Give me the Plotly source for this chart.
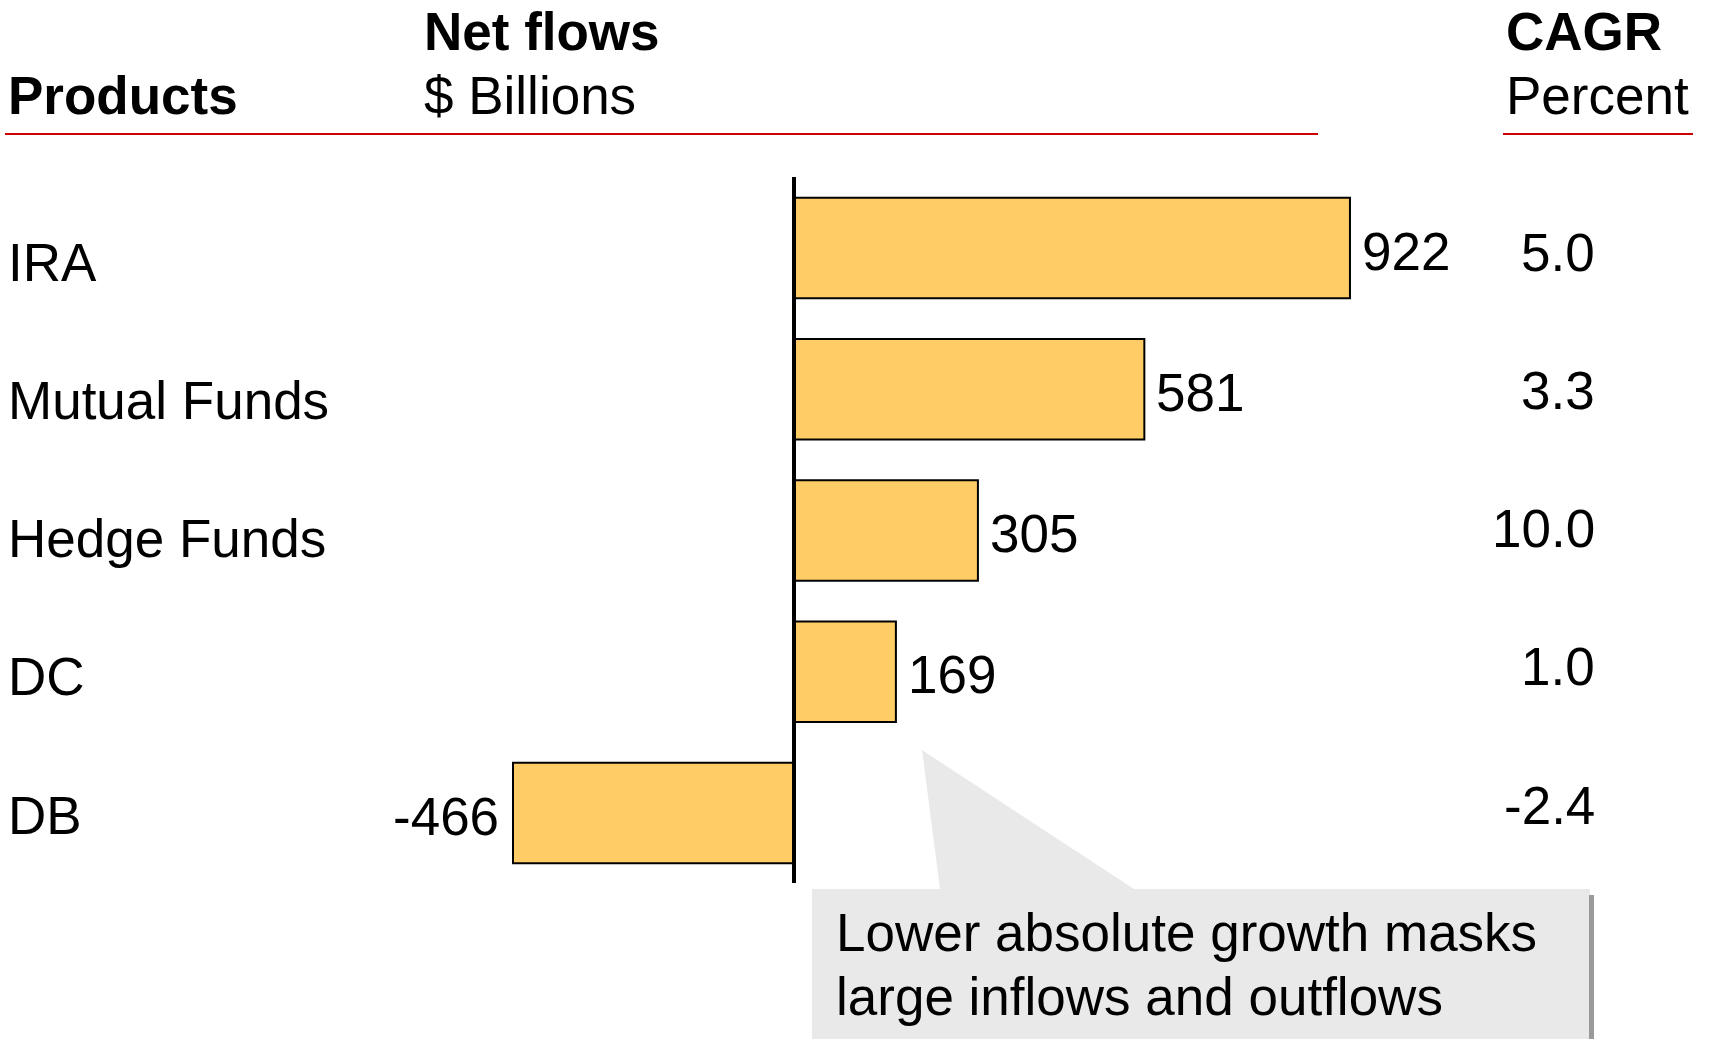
import plotly.graph_objects as go

# Data
products = ["IRA", "Mutual Funds", "Hedge Funds", "DC", "DB"]
net_flows = [922, 581, 305, 169, -466]          # $ Billions
cagr = ["5.0", "3.3", "10.0", "1.0", "-2.4"]    # Percent

W, H = 1710, 1039
FONT = "Liberation Sans, Arial, Helvetica, sans-serif"
FS = 53


def px(x):
    return x / W


def py(y):
    return 1 - y / H


fig = go.Figure()

fig.add_trace(go.Bar(
    y=products,
    x=net_flows,
    orientation="h",
    width=0.71,
    marker=dict(color="#FFCC66", line=dict(color="black", width=2)),
    hoverinfo="skip",
))
# Invisible companion trace on the text-column axis (labels and CAGR)
fig.add_trace(go.Scatter(
    y=products, x=[0] * len(products), yaxis="y2", mode="markers",
    marker=dict(opacity=0), hoverinfo="skip",
))

annotations = []

# Column headers
annotations += [
    dict(x=px(6), y=py(95), text="<b>Products</b>", xanchor="left"),
    dict(x=px(422), y=py(31), text="<b>Net flows</b>", xanchor="left"),
    dict(x=px(422), y=py(95), text="$ Billions", xanchor="left"),
    dict(x=px(1504), y=py(31), text="<b>CAGR</b>", xanchor="left"),
    dict(x=px(1504), y=py(95), text="Percent", xanchor="left"),
]
for a in annotations:
    a.update(xref="paper", yref="paper", yanchor="middle", showarrow=False)

# Category labels, value labels and CAGR column
for name, v, g in zip(products, net_flows, cagr):
    annotations.append(dict(xref="paper", yref="y2", x=px(6), y=name, yshift=-10,
                            text=name, xanchor="left", yanchor="middle",
                            showarrow=False))
    annotations.append(dict(xref="x", yref="y", x=v, y=name, yshift=-3,
                            xshift=10 if v >= 0 else -12,
                            text=str(v), xanchor="left" if v >= 0 else "right",
                            yanchor="middle", showarrow=False))
    annotations.append(dict(xref="paper", yref="y2", x=px(1597), y=name,
                            text=g, xanchor="right", yanchor="middle",
                            showarrow=False))

# Callout text
annotations += [
    dict(xref="paper", yref="paper", x=px(834), y=py(932), text="Lower absolute growth masks",
         xanchor="left", yanchor="middle", showarrow=False),
    dict(xref="paper", yref="paper", x=px(834), y=py(996), text="large inflows and outflows",
         xanchor="left", yanchor="middle", showarrow=False),
]

shapes = []
# Red header rules
shapes.append(dict(type="line", xref="paper", yref="paper", x0=px(5), x1=px(1318),
                   y0=py(134), y1=py(134), line=dict(color="#CC0000", width=2)))
shapes.append(dict(type="line", xref="paper", yref="paper", x0=px(1503), x1=px(1693),
                   y0=py(134), y1=py(134), line=dict(color="#CC0000", width=2)))

# Zero axis
shapes.append(dict(type="line", xref="x", yref="paper", x0=0, x1=0,
                   y0=py(177), y1=py(883), line=dict(color="black", width=4),
                   layer="above"))

# Callout shadow and box with pointer
shapes.append(dict(type="rect", xref="paper", yref="paper", x0=px(1589), x1=px(1594),
                   y0=py(1045), y1=py(895), fillcolor="#9A9A9A", line=dict(width=0)))
pts = [(812, 889), (940, 889), (922, 750), (1134, 889), (1590, 889), (1590, 1045), (812, 1045)]
path = "M " + " L ".join(f"{px(x):.5f},{py(y):.5f}" for x, y in pts) + " Z"
shapes.append(dict(type="path", xref="paper", yref="paper", path=path,
                   fillcolor="#E9E9E9", line=dict(width=0), layer="below"))

# Horizontal scale: zero at x=794 px, 0.603 px per $B
x0 = -794 / 0.603
x1 = x0 + W / 0.603
# Bar rows: first centered at 248 px, rows 141.25 px apart
step = 141.25
ytop = -248 / step
ybot = ytop + H / step
# Text rows: first centered at 252 px, rows 138.3 px apart
step2 = 138.3
y2top = -252 / step2
y2bot = y2top + H / step2

fig.update_layout(
    width=W, height=H,
    margin=dict(l=0, r=0, t=0, b=0),
    paper_bgcolor="white", plot_bgcolor="white",
    font=dict(family=FONT, size=FS, color="black"),
    showlegend=False,
    xaxis=dict(range=[x0, x1], visible=False, fixedrange=True),
    yaxis=dict(type="category", categoryorder="array", categoryarray=products,
               range=[ybot, ytop], visible=False, fixedrange=True),
    yaxis2=dict(type="category", categoryorder="array", categoryarray=products,
                range=[y2bot, y2top], visible=False, fixedrange=True,
                overlaying="y"),
    annotations=annotations,
    shapes=shapes,
)

fig.write_html("out.html", config={"displayModeBar": False})
